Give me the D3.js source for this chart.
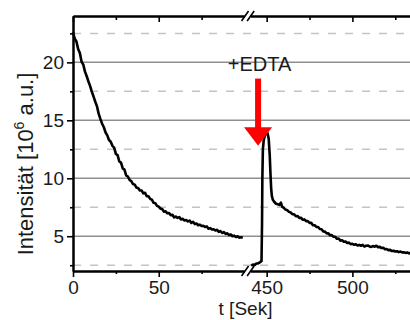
<!DOCTYPE html>
<html>
<head>
<meta charset="utf-8">
<script src="https://cdn.jsdelivr.net/npm/d3@7/dist/d3.min.js"></script>
<style>
  html, body { margin: 0; padding: 0; background: #fff; }
  svg { display: block; }
  text { font-family: "Liberation Sans", Arial, sans-serif; fill: #1a1a1a; }
</style>
</head>
<body>
<svg id="chart" width="410" height="320"></svg>
<script>
// Fluorescence decay before and after EDTA addition (time axis broken between 100 and 440 s)
const tBefore = [0, 1, 2, 3, 4, 5, 6, 7, 8, 9, 10, 11, 12, 13, 14, 15, 16, 17, 18, 19, 20, 21, 22, 23, 24, 25, 26, 27, 28, 29, 30,
  31, 32, 33, 34, 35, 36, 37, 38, 39, 40, 41, 42, 43, 44, 45, 46, 47, 48, 49, 50, 51, 52, 53, 54, 55, 56, 57, 58, 59, 60,
  61, 62, 63, 64, 65, 66, 67, 68, 69, 70, 71, 72, 73, 74, 75, 76, 77, 78, 79, 80, 81, 82, 83, 84, 85, 86, 87, 88, 89, 90,
  91, 92, 93, 94, 95, 96, 97, 98, 99];
const iBefore = [22.6, 22.05, 21.8, 21.15, 20.8, 20.05, 19.8, 19.2, 18.8, 18.35, 17.95, 17.45, 17.05, 16.6, 16.2, 15.55, 15.1, 14.7, 14.4, 13.95, 13.7, 13.3, 13.15, 12.8, 12.65, 12.1, 12.0, 11.45, 11.35, 10.85, 10.75,
  10.25, 10.15, 9.85, 9.75, 9.5, 9.45, 9.2, 9.15, 8.95, 8.95, 8.7, 8.75, 8.45, 8.45, 8.22, 8.15, 7.88, 7.85, 7.62, 7.55, 7.38, 7.35, 7.12, 7.15, 6.98, 7.0, 6.82, 6.85, 6.62, 6.7,
  6.58, 6.65, 6.45, 6.5, 6.36, 6.4, 6.28, 6.35, 6.15, 6.25, 6.05, 6.1, 5.95, 6.0, 5.88, 5.9, 5.8, 5.85, 5.65, 5.7, 5.58, 5.6, 5.5, 5.55, 5.38, 5.45, 5.28, 5.35, 5.2, 5.25,
  5.1, 5.15, 5.0, 5.05, 4.93, 5.0, 4.88, 4.92, 4.86];

const tAfter = [441, 442, 443, 444, 445, 446, 447, 447.3, 447.5, 447.8, 448.3, 449, 449.8, 450.5, 451.2, 451.8, 452.2, 452.6, 453, 453.6,
  454.5, 455.5, 456.5, 457.5, 458.3, 459, 460, 461, 462, 463, 464, 465, 466, 467, 468, 469, 470, 471, 472, 473, 474, 475, 476, 477, 478, 479, 480,
  481, 482, 483, 484, 485, 486, 487, 488, 489, 490, 491, 492, 493, 494, 495, 496, 497, 498, 499, 500, 501, 502, 503, 504, 505, 506, 507, 508, 509, 510,
  511, 512, 513, 514, 515, 516, 517, 518, 519, 520, 521, 522, 523, 524, 525, 526, 527, 528, 529, 530, 531, 532, 533, 534, 535];
const iAfter = [2.45, 2.55, 2.52, 2.65, 2.66, 2.75, 2.85, 6.0, 10.0, 12.5, 13.3, 13.7, 13.95, 13.9, 13.4, 12.0, 10.5, 9.2, 8.5, 8.15,
  7.95, 7.8, 7.75, 7.7, 7.9, 7.55, 7.45, 7.3, 7.25, 7.1, 7.05, 6.9, 6.9, 6.72, 6.75, 6.58, 6.6, 6.42, 6.45, 6.3, 6.3, 6.15, 6.15, 5.95, 5.95, 5.8, 5.8,
  5.62, 5.6, 5.42, 5.4, 5.25, 5.25, 5.08, 5.1, 4.95, 4.95, 4.78, 4.8, 4.62, 4.65, 4.52, 4.55, 4.42, 4.45, 4.32, 4.35, 4.26, 4.3, 4.2, 4.25, 4.18, 4.25, 4.12, 4.18, 4.2, 4.12,
  4.08, 4.15, 4.1, 4.18, 4.05, 4.08, 3.98, 4.0, 3.88, 3.9, 3.8, 3.82, 3.72, 3.75, 3.68, 3.7, 3.63, 3.68, 3.6, 3.62, 3.56, 3.6, 3.52, 3.55, 3.5];

const yMajorTicks = [5, 10, 15, 20];
const yMinorTicks = [2.5, 7.5, 12.5, 17.5, 22.5];
const xMajorBefore = [0, 50];
const xMinorBefore = [25, 75];
const xMajorAfter = [450, 500];
const xMinorAfter = [475, 525];

const yLabel = "Intensität [10";
const yLabelExp = "6";
const yLabelUnit = " a.u.]";
const xLabel = "t [Sek]";
const note = "+EDTA";
// arrow marking the EDTA addition (time, shaft top, head base, tip)
const arrowT = 445, arrowTop = 18.6, arrowBase = 14.4, arrowTip = 12.8;

const W = 410, H = 320;
const svg = d3.select("#chart");

const xL = d3.scaleLinear().domain([0, 101]).range([73, 246.2]);
const xR = d3.scaleLinear().domain([440, 540]).range([249.5, 421]);
const y = d3.scaleLinear().domain([2, 24]).range([271, 16]);

const x0 = xL(0), xEnd = W + 2;
const yTop = y(24), yBot = y(2);

// grid
svg.append("g").selectAll("line").data(yMinorTicks).join("line")
  .attr("x1", x0).attr("x2", xEnd)
  .attr("y1", d => y(d)).attr("y2", d => y(d))
  .attr("stroke", "#c4c4c4").attr("stroke-width", 1.5).attr("stroke-dasharray", "8,9");
svg.append("g").selectAll("line").data(yMajorTicks).join("line")
  .attr("x1", x0).attr("x2", xEnd)
  .attr("y1", d => y(d)).attr("y2", d => y(d))
  .attr("stroke", "#8f8f8f").attr("stroke-width", 1.5);

// data lines
const lineL = d3.line().x((d, i) => xL(tBefore[i])).y(d => y(d));
const lineR = d3.line().x((d, i) => xR(tAfter[i])).y(d => y(d));
svg.append("path").attr("d", lineL(iBefore)).attr("fill", "none")
  .attr("stroke", "#000").attr("stroke-width", 2.6).attr("stroke-linejoin", "round");
svg.append("path").attr("d", lineR(iAfter)).attr("fill", "none")
  .attr("stroke", "#000").attr("stroke-width", 2.6).attr("stroke-linejoin", "round");

// axes
const fs = 19;
function styleAxis(g) {
  g.selectAll(".domain").attr("stroke", "#000").attr("stroke-width", 2);
  g.selectAll(".tick line").attr("stroke", "#000").attr("stroke-width", 1.6);
  g.selectAll("text").attr("font-size", fs).attr("fill", "#1a1a1a")
    .attr("font-family", "Liberation Sans, Arial, sans-serif");
}
// bottom and top
[[xL, xMajorBefore, xMinorBefore], [xR, xMajorAfter, xMinorAfter]].forEach(([sc, maj, mn]) => {
  svg.append("g").attr("transform", `translate(0,${yBot})`)
    .call(d3.axisBottom(sc).tickValues(mn).tickSize(3).tickFormat("").tickSizeOuter(0))
    .call(styleAxis);
  svg.append("g").attr("transform", `translate(0,${yBot})`)
    .call(d3.axisBottom(sc).tickValues(maj).tickSize(6).tickPadding(4).tickFormat(d3.format("d")).tickSizeOuter(0))
    .call(styleAxis);
  // top (ticks inward)
  svg.append("g").attr("transform", `translate(0,${yTop})`)
    .call(d3.axisBottom(sc).tickValues(mn).tickSize(4).tickFormat("").tickSizeOuter(0))
    .call(styleAxis);
  svg.append("g").attr("transform", `translate(0,${yTop})`)
    .call(d3.axisBottom(sc).tickValues(maj).tickSize(6).tickFormat("").tickSizeOuter(0))
    .call(styleAxis);
});
// left
svg.append("g").attr("transform", `translate(${x0},0)`)
  .call(d3.axisLeft(y).tickValues(yMinorTicks).tickSize(3).tickFormat("").tickSizeOuter(0))
  .call(styleAxis);
svg.append("g").attr("transform", `translate(${x0},0)`)
  .call(d3.axisLeft(y).tickValues(yMajorTicks).tickSize(6).tickPadding(3).tickFormat(d3.format("d")).tickSizeOuter(0))
  .call(styleAxis);

// axis break marks
const bx = (xL.range()[1] + xR.range()[0]) / 2;
[yTop, yBot].forEach(yy => {
  svg.append("rect").attr("x", bx - 3).attr("y", yy - 3).attr("width", 6).attr("height", 6).attr("fill", "#fff");
  [-2.8, 2.8].forEach(off => {
    svg.append("line")
      .attr("x1", bx + off - 3.5).attr("y1", yy + 5)
      .attr("x2", bx + off + 3.5).attr("y2", yy - 5)
      .attr("stroke", "#000").attr("stroke-width", 1.6);
  });
});

// arrow
const ax = xR(arrowT);
svg.append("rect").attr("x", ax - 3).attr("y", y(arrowTop)).attr("width", 6)
  .attr("height", y(arrowBase) - y(arrowTop) + 1).attr("fill", "#ff0000");
svg.append("path")
  .attr("d", `M${ax - 14},${y(arrowBase)} L${ax + 14},${y(arrowBase)} L${ax},${y(arrowTip)} Z`)
  .attr("fill", "#ff0000");

svg.append("text").attr("x", ax + 1.5).attr("y", 71).attr("text-anchor", "middle")
  .attr("font-size", 20).attr("fill", "#2b2b2b").text(note);

// axis titles
svg.append("text").attr("x", (x0 + W) / 2 + 4).attr("y", 315).attr("text-anchor", "middle")
  .attr("font-size", 19).text(xLabel);

const yt = svg.append("text")
  .attr("transform", `translate(33,164) rotate(-90)`)
  .attr("text-anchor", "middle").attr("font-size", 22);
yt.append("tspan").text(yLabel);
yt.append("tspan").attr("dy", -9).attr("font-size", 14).text(yLabelExp);
yt.append("tspan").attr("dy", 9).text(yLabelUnit);
</script>
</body>
</html>
